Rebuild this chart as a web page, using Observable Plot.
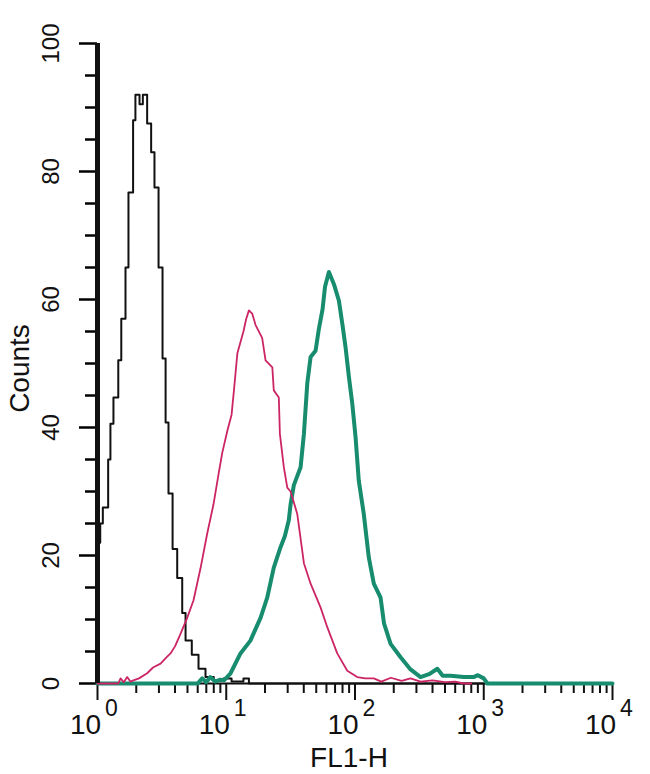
<!DOCTYPE html>
<html><head><meta charset="utf-8">
<script src="https://cdn.jsdelivr.net/npm/d3@7"></script>
<script src="https://cdn.jsdelivr.net/npm/@observablehq/plot@0.6"></script>
<style>body{margin:0;background:#fff} svg{display:block}</style>
</head><body><div id="chart"></div>
<script>
// Isotype control (black), stepped histogram
const blackX = [1.0, 1.02, 1.05, 1.1, 1.21, 1.26, 1.33, 1.45, 1.53, 1.65, 1.74, 1.89, 1.97, 2.12, 2.25, 2.43, 2.61, 2.77, 2.98, 3.20, 3.38, 3.56, 3.83, 4.16, 4.55, 4.83, 5.4, 6.09, 6.9, 8.0, 9.5, 11, 13.6, 15, 1000];
const blackY = [60, 22, 25, 27.5, 35, 40.6, 44.7, 50.5, 57, 65, 76.7, 88, 92, 90.5, 92, 87.5, 83, 77.5, 65, 50.8, 40.8, 29.7, 21, 16.5, 11, 6.7, 4.5, 2.3, 1, 0.5, 0.8, 0.3, 0.8, 0, 0];

// Pink sample
const pinkX = [1.0, 1.45, 1.51, 1.6, 1.70, 1.8, 1.90, 2.1, 2.43, 2.7, 3.09, 3.4, 3.69, 4.0, 4.42, 4.98, 5.57, 6.31, 7.11, 7.96, 8.76, 9.3, 10.2, 11.0, 11.5, 12.2, 13.6, 14.3, 15.0, 15.9, 16.9, 19.0, 20.2, 22.8, 23.4, 25.6, 26.1, 28.0, 29.8, 31.6, 35.6, 40.1, 45.2, 54.0, 60.9, 72.8, 87.1, 104, 120, 140, 160, 190, 230, 270, 323, 400, 500, 600, 700, 800];
const pinkY = [0, 0, 0.8, 0.2, 1, 0.3, 0.5, 0.8, 1.6, 2.5, 3.1, 4, 4.7, 5.8, 7.8, 10.3, 13, 18, 23.4, 28, 33, 36, 39.5, 42, 46, 51.6, 55, 57, 58.3, 57.8, 56, 54, 50.5, 49.4, 45.8, 44.7, 39, 33.8, 30.6, 30, 26.5, 18.8, 15.6, 11.9, 8.8, 4.7, 2, 1, 0.8, 0.8, 0.3, 0.9, 0.4, 0.8, 0.3, 0.5, 0.2, 0.3, 0, 0];

// Green sample
const greenX = [1, 6, 6.5, 7, 7.5, 8.2, 9.0, 9.6, 10.8, 12.9, 15.4, 18.5, 20.8, 23.4, 26.4, 28.5, 30.6, 31.6, 33.5, 37.8, 40.1, 42.6, 45.2, 49.4, 52.5, 56, 58.5, 62.7, 68.6, 75, 79.7, 84.5, 89.7, 95.3, 101, 107, 117, 128, 140, 158, 168, 189, 226, 270, 323, 380, 436, 480, 553, 700, 834, 900, 1000, 1067, 10000];
const greenY = [0, 0, 0.8, 0.2, 1, 0.3, 0.6, 0.5, 1.6, 4.7, 6.7, 10.3, 13.4, 18.1, 21.3, 23, 25.5, 28, 31, 33.8, 39, 46.9, 51, 52, 55.5, 58.5, 62, 64.3, 62.4, 59.8, 56.2, 52.5, 47.9, 43.7, 38.5, 31.7, 26.5, 19.7, 15.6, 13.4, 9.4, 6.2, 4.1, 2.2, 1, 1.5, 2.3, 1.2, 1.2, 1, 1, 1.3, 0.8, 0, 0];

// Axis ticks and labels
const yMajor = [0, 20, 40, 60, 80, 100];
const yMinor = [5, 10, 15, 25, 30, 35, 45, 50, 55, 65, 70, 75, 85, 90, 95];
const xDecades = [1, 10, 100, 1000, 10000];
const xExponents = ["0", "1", "2", "3", "4"];
const xMinor = [2,3,4,5,6,7,8,9,20,30,40,50,60,70,80,90,200,300,400,500,600,700,800,900,2000,3000,4000,5000,6000,7000,8000,9000];

const toRows = (xs, ys) => xs.map((x, i) => ({x, y: ys[i]}));
const black = toRows(blackX, blackY);
const pink = toRows(pinkX, pinkY);
const green = toRows(greenX, greenY);
const decades = xDecades.map((x, i) => ({x, e: xExponents[i]}));

const W = 650, H = 774, ML = 97, MR = 38, MT = 43, MB = 91;
const pxPerDecade = (W - ML - MR) / 4;
// left end of a y tick of a given pixel length, expressed through the log x scale
const tickStart = (len) => Math.pow(10, -len / pxPerDecade);

const font = "'Liberation Sans', Arial, sans-serif";

const chart = Plot.plot({
  width: W, height: H,
  marginLeft: ML, marginRight: MR, marginTop: MT, marginBottom: MB,
  style: {fontFamily: font, background: "white"},
  x: {type: "log", domain: [1, 10000], axis: null},
  y: {domain: [0, 100], axis: null},
  marks: [
    Plot.ruleY(yMinor, {y: d => d, x1: () => tickStart(12), x2: () => 1, stroke: "black", strokeWidth: 2}),
    Plot.ruleY(yMajor, {y: d => d, x1: () => tickStart(18), x2: () => 1, stroke: "black", strokeWidth: 2}),
    Plot.axisY(yMinor, {anchor: "left", tickSize: 12, tickFormat: () => "", label: null, stroke: "black", strokeWidth: 2}),
    Plot.axisY(yMajor, {anchor: "left", tickSize: 18, tickFormat: () => "", label: null, stroke: "black", strokeWidth: 2}),
    Plot.axisX(xMinor, {anchor: "bottom", tickSize: 10, tickFormat: () => "", label: null, stroke: "#111", strokeWidth: 2}),
    Plot.axisX(xDecades, {anchor: "bottom", tickSize: 17, tickFormat: () => "", label: null, stroke: "#111", strokeWidth: 2}),
    Plot.text(yMajor, {x: () => 1, y: d => d, text: d => String(d), rotate: -90, textAnchor: "middle", lineAnchor: "middle", dx: -46, fontSize: 24, fill: "#111"}),
    Plot.text(decades, {x: "x", y: () => 0, text: () => "10", lineAnchor: "middle", dx: -12, dy: 42, fontSize: 28, fill: "#111"}),
    Plot.text(decades, {x: "x", y: () => 0, text: "e", lineAnchor: "middle", dx: 14, dy: 25, fontSize: 23, fill: "#111"}),
    Plot.text(["Counts"], {frameAnchor: "left", rotate: -90, textAnchor: "middle", lineAnchor: "middle", dx: -77, dy: 5, fontSize: 28, fill: "#111"}),
    Plot.text(["FL1-H"], {frameAnchor: "bottom", textAnchor: "middle", lineAnchor: "middle", dx: -6, dy: 75, fontSize: 28, fill: "#111"}),
    Plot.ruleY([0], {x1: 1, x2: 10000, stroke: "#111", strokeWidth: 2}),
    Plot.line(black, {x: "x", y: "y", curve: "step-after", stroke: "#111", strokeWidth: 2}),
    Plot.line(green, {x: "x", y: "y", stroke: "#178c6e", strokeWidth: 4}),
    Plot.line(pink, {x: "x", y: "y", stroke: "#cc2566", strokeWidth: 1.8}),
    Plot.ruleX([1], {y1: 0, y2: 100, stroke: "#111", strokeWidth: 5})
  ]
});
document.getElementById("chart").append(chart);
</script>
</body></html>
